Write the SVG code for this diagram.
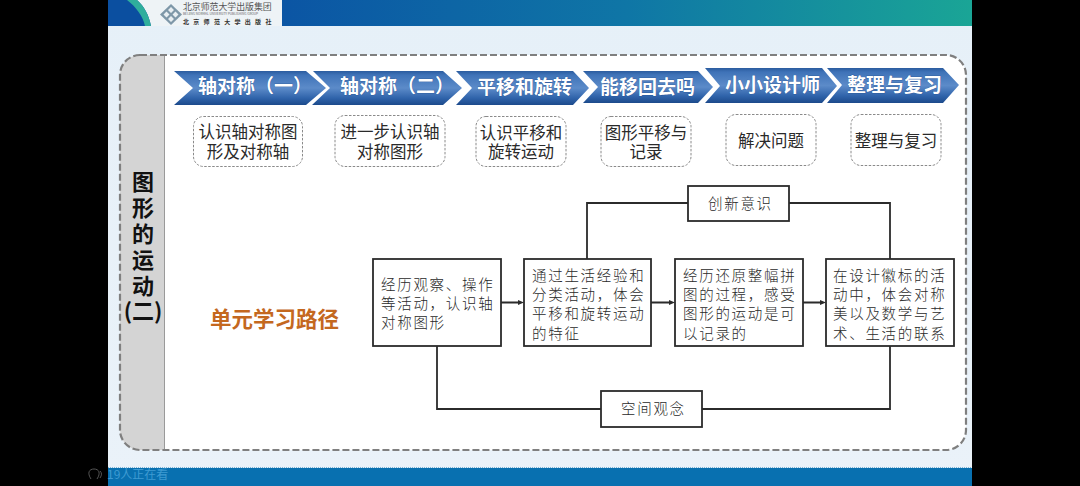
<svg xmlns="http://www.w3.org/2000/svg" width="1080" height="486" viewBox="0 0 1080 486">
<defs>
<linearGradient id="hdr" x1="0" x2="1" y1="0" y2="0"><stop offset="0" stop-color="#0b55a4"/><stop offset="0.5" stop-color="#0f76a6"/><stop offset="1" stop-color="#1aa596"/></linearGradient>
<linearGradient id="chev" x1="0" x2="0" y1="0" y2="1"><stop offset="0" stop-color="#2b5c9f"/><stop offset="0.12" stop-color="#3f73b8"/><stop offset="0.5" stop-color="#5c8bc9"/><stop offset="0.8" stop-color="#2f63aa"/><stop offset="1" stop-color="#1c4a8b"/></linearGradient>
<linearGradient id="bg" x1="0" x2="0" y1="0" y2="1"><stop offset="0" stop-color="#e6f0f8"/><stop offset="1" stop-color="#eaf2f9"/></linearGradient>
<clipPath id="panelClip"><rect x="120" y="55" width="846" height="395" rx="20"/></clipPath>
</defs>
<style>
text{font-family:"Noto Sans CJK SC","Noto Sans",sans-serif;dominant-baseline:central;transform:translateY(-1.5px)}
.chev{fill:url(#chev)}
.ct{font-size:19px;font-weight:700;fill:#fff;stroke:#1d4a8c;stroke-width:.5px;paint-order:stroke}
.db{fill:#fff;stroke:#8a8a8a;stroke-width:1;stroke-dasharray:2.5 1.5}
.dt{font-size:16.500px;fill:#2a2a2a;text-anchor:middle}
.fb{fill:#fff;stroke:#2b2b2b;stroke-width:1.800}
.ft{font-size:14.500px;font-weight:300;letter-spacing:1.7px;fill:#2a2a2a}
.ln{fill:none;stroke:#2b2b2b;stroke-width:1.800}
.st{font-size:22px;font-weight:700;fill:#111;text-anchor:middle}
</style>
<rect width="1080" height="486" fill="#000"/>
<rect x="108" y="0" width="864" height="486" fill="url(#bg)"/>

<g id="header">
<rect x="282" y="0" width="690" height="26" fill="url(#hdr)"/>
<rect x="108" y="0" width="44" height="26" fill="#0b4fa0"/>
<path d="M137 0C144 6 149 15 151 26H282V0Z" fill="#eef3f6"/>
<path d="M127 0C136 7 143 16 145 26H151C149 15 144 6 137 0Z" fill="#2fae9c"/>
<g id="logo">
<path d="M171 4L182 14.500L171 25L160 14.500Z" fill="#7e97a8"/>
<path d="M171 7L174 10L171 13L168 10ZM175.500 11.500L178.500 14.500L175.500 17.500L172.500 14.500ZM166.500 11.500L169.500 14.500L166.500 17.500L163.500 14.500ZM171 16L174 19L171 22L168 19Z" fill="#e8eef2"/>
<text y="7" fill="#555"><tspan x="183" font-size="8.900">北京师范大学出版集团</tspan><tspan x="183" dy="7.500" font-size="3.200" fill="#666">BEIJING NORMAL UNIVERSITY PUBLISHING GROUP</tspan><tspan x="183" dy="7.500" font-size="6" font-weight="700" letter-spacing="4.300" fill="#333">北京师范大学出版社</tspan></text>
</g>
</g>

<rect x="108" y="468" width="864" height="18" fill="#0870b0"/>
<line x1="108" x2="972" y1="467.500" y2="467.500" stroke="#7fb6d8" stroke-width="1" stroke-dasharray="1 1"/>
<g id="viewers">
<path d="M91 479C87 473 89 469 94 469C99 469 101 473 97 479M100 471C102 473 102 475 100 478" fill="none" stroke="#555" stroke-width="1"/>
<text x="107" y="475" font-size="12" fill="#3d9ad2">19人正在看</text>
</g>

<g id="panel">
<rect x="120" y="55" width="846" height="395" rx="20" fill="#fff"/>
<rect x="120" y="55" width="45" height="395" fill="#d4d4d4" clip-path="url(#panelClip)"/>
<line x1="164.500" x2="164.500" y1="55" y2="450" stroke="#9a9a9a" stroke-width="1"/>
<rect x="120" y="55" width="846" height="395" rx="20" fill="none" stroke="#7f7f7f" stroke-width="2.200" stroke-dasharray="7 3"/>
</g>

<g id="side-title">
<text class="st" y="181"><tspan x="143">图</tspan><tspan x="143" dy="26">形</tspan><tspan x="143" dy="26">的</tspan><tspan x="143" dy="26">运</tspan><tspan x="143" dy="26">动</tspan><tspan x="143" dy="25">(二)</tspan></text>
</g>

<g id="route-title"><text x="210" y="319" font-size="21.500" font-weight="700" fill="#c4681f">单元学习路径</text></g>

<g id="chevron-1"><path class="chev" d="M174 71H306L326 88L306 105H174L193 88Z"/><text class="ct" x="198" y="86">轴对称（一）</text></g>
<g id="chevron-2"><path class="chev" d="M313 71H443L462 88L443 105H312L330 88Z"/><text class="ct" x="340" y="86">轴对称（二）</text></g>
<g id="chevron-3"><path class="chev" d="M456 71H573L589 88L573 105H456L472 88Z"/><text class="ct" x="477" y="87">平移和旋转</text></g>
<g id="chevron-4"><path class="chev" d="M583 71H698L713 87L698 103H583L598 87Z"/><text class="ct" x="600" y="87">能移回去吗</text></g>
<g id="chevron-5"><path class="chev" d="M705 68H822L837 86L822 103H705L720 86Z"/><text class="ct" x="725" y="85">小小设计师</text></g>
<g id="chevron-6"><path class="chev" d="M827 68H943L959 85L943 103H827L842 85Z"/><text class="ct" x="847" y="85">整理与复习</text></g>

<g id="goal-1"><rect class="db" x="193.500" y="116.500" width="109" height="50" rx="10"/><text class="dt" y="132"><tspan x="248">认识轴对称图</tspan><tspan x="248" dy="20">形及对称轴</tspan></text></g>
<g id="goal-2"><rect class="db" x="335" y="115.500" width="110" height="51" rx="10"/><text class="dt" y="132"><tspan x="390">进一步认识轴</tspan><tspan x="390" dy="20">对称图形</tspan></text></g>
<g id="goal-3"><rect class="db" x="476" y="116.500" width="90" height="50" rx="10"/><text class="dt" y="133"><tspan x="521">认识平移和</tspan><tspan x="521" dy="19">旋转运动</tspan></text></g>
<g id="goal-4"><rect class="db" x="601" y="116.500" width="90" height="50" rx="10"/><text class="dt" y="133"><tspan x="646">图形平移与</tspan><tspan x="646" dy="19">记录</tspan></text></g>
<g id="goal-5"><rect class="db" x="726" y="114.500" width="90" height="51" rx="10"/><text class="dt" x="771" y="141">解决问题</text></g>
<g id="goal-6"><rect class="db" x="851" y="114.500" width="90" height="51" rx="10"/><text class="dt" x="896" y="141">整理与复习</text></g>

<g id="connectors">
<path class="ln" d="M587 259V203H688M789 203H890V259"/>
<path class="ln" d="M437 346V409H601M702 409H890V346"/>
<path class="ln" d="M501 302.500H518M651 302.500H669M803 302.500H820"/>
<path d="M518 300L524 302.500L518 305Z M669 300L675 302.500L669 305Z M820 300L826 302.500L820 305Z" fill="#2b2b2b"/>
</g>

<g id="step-1"><rect class="fb" x="373" y="259" width="128" height="87"/><text class="ft" y="284"><tspan x="381">经历观察、操作</tspan><tspan x="381" dy="19">等活动，认识轴</tspan><tspan x="381" dy="19">对称图形</tspan></text></g>
<g id="step-2"><rect class="fb" x="524" y="259" width="127" height="87"/><text class="ft" y="275"><tspan x="532">通过生活经验和</tspan><tspan x="532" dy="19">分类活动，体会</tspan><tspan x="532" dy="19">平移和旋转运动</tspan><tspan x="532" dy="20">的特征</tspan></text></g>
<g id="step-3"><rect class="fb" x="675" y="259" width="128" height="87"/><text class="ft" y="275"><tspan x="683">经历还原整幅拼</tspan><tspan x="683" dy="19">图的过程，感受</tspan><tspan x="683" dy="19">图形的运动是可</tspan><tspan x="683" dy="20">以记录的</tspan></text></g>
<g id="step-4"><rect class="fb" x="826" y="259" width="128" height="87"/><text class="ft" y="275"><tspan x="833">在设计徽标的活</tspan><tspan x="833" dy="19">动中，体会对称</tspan><tspan x="833" dy="19">美以及数学与艺</tspan><tspan x="833" dy="20">术、生活的联系</tspan></text></g>
<g id="innovation"><rect class="fb" x="688" y="186" width="101" height="35"/><text class="ft" x="708" y="204">创新意识</text></g>
<g id="space"><rect class="fb" x="601" y="391" width="101" height="36"/><text class="ft" x="621" y="409">空间观念</text></g>
</svg>
